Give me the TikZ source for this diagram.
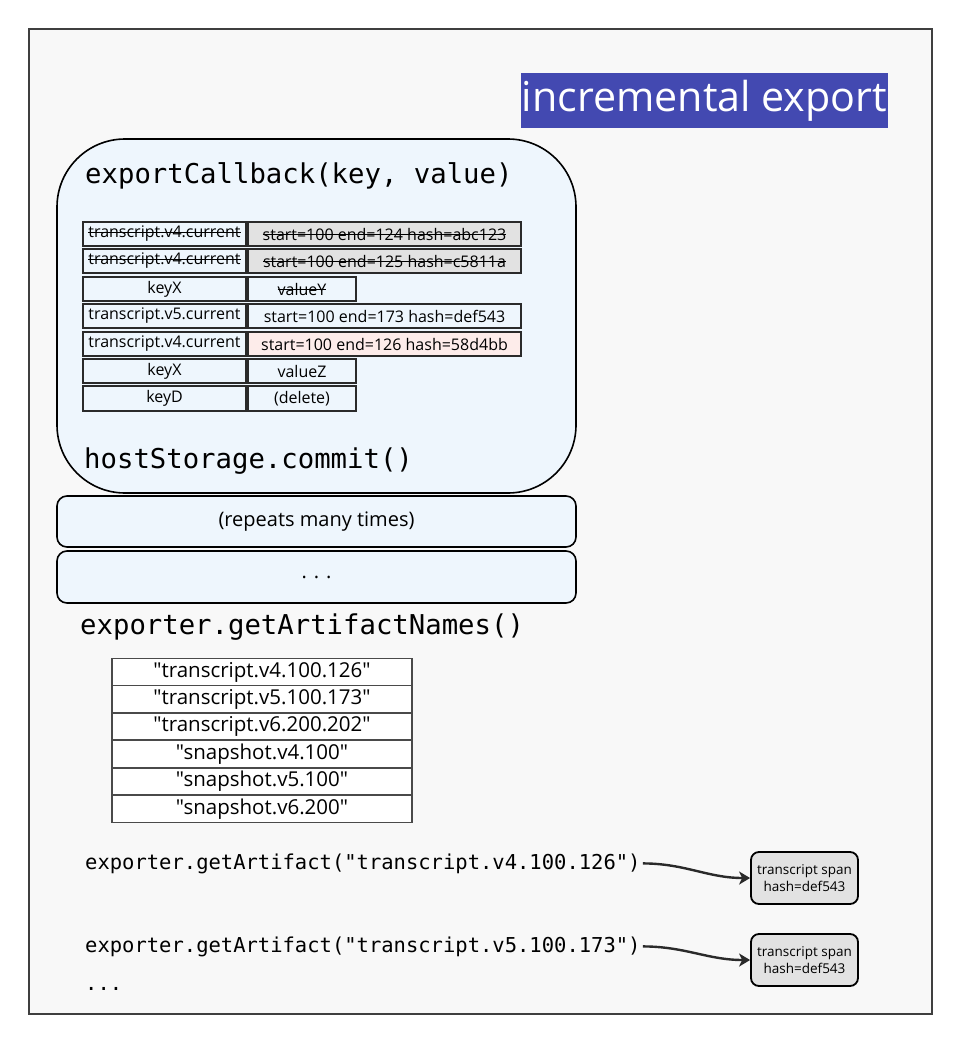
\documentclass[tikz,border=0pt]{standalone}
\usepackage{fontspec}
\setmainfont{Open Sans}[Ligatures=TeXOff]
\newfontfamily\codefont{DejaVu Sans Mono}
\usetikzlibrary{arrows.meta}
\newsavebox{\strkbox}
\newcommand{\strk}[1]{\sbox{\strkbox}{#1}\rlap{\usebox{\strkbox}}\raisebox{0.3em}{\rule{\wd\strkbox}{0.07em}}}
\newcommand{\dq}{\symbol{34}}
\definecolor{bgc}{HTML}{F8F8F8}
\definecolor{lblue}{HTML}{EEF6FD}
\definecolor{titleblue}{HTML}{4349B1}
\definecolor{grayfill}{HTML}{E2E2E2}
\definecolor{pinkfill}{HTML}{FDECEA}
\definecolor{edge}{HTML}{2A2A2A}
\tikzset{
  frame/.style={draw=edge!90, line width=2pt, fill=bgc},
  titlebox/.style={fill=titleblue, text=white, font=\fontsize{41.2}{44}\selectfont, inner sep=0pt},
  bigbox/.style={draw=black, line width=1.6pt, fill=lblue, rounded corners=68pt},
  codebig/.style={font=\codefont\fontsize{27.3}{30}\selectfont, anchor=base west, inner sep=0pt},
  codesmall/.style={font=\codefont\fontsize{20.5}{24}\selectfont, anchor=base west, inner sep=0pt},
  cell/.style={draw=edge, line width=1.8pt, fill=lblue, minimum height=24.5pt, inner sep=0pt, font=\fontsize{16}{18}\selectfont},
  kcell/.style={cell, minimum width=163pt},
  vlong/.style={cell, minimum width=273pt},
  vshort/.style={cell, minimum width=108pt},
  band/.style={draw=black, line width=1.6pt, fill=lblue, rounded corners=10pt, minimum width=519pt, inner sep=0pt, font=\fontsize{20}{22}\selectfont},
  namecell/.style={draw=edge!85, line width=1.3pt, fill=white, minimum width=300pt, minimum height=26.5pt, inner sep=0pt, font=\fontsize{20.5}{22}\selectfont},
  spanbox/.style={draw=black, line width=1.8pt, fill=grayfill, rounded corners=8pt, minimum width=107pt, minimum height=52pt, inner sep=0pt, align=center, font=\fontsize{13.5}{17}\selectfont},
  arr/.style={draw=edge, line width=2.4pt, -{Stealth[length=11pt,width=13pt,inset=3pt]}}
}
\begin{document}
\begin{tikzpicture}[x=1pt,y=-1pt]
\useasboundingbox (0,0) rectangle (959,1041);
\fill[white] (0,0) rectangle (959,1041);
\draw[frame] (29,29) rectangle (932,1014);

\node[titlebox, minimum width=367pt, minimum height=55pt] (title) at (704.5,100.5) {incremental export};

\node[bigbox, minimum width=519pt, minimum height=354pt] (cb) at (316.5,316) {};
\node[codebig] (cbt) at (85,183) {exportCallback(key, value)};
\node[codebig] (commit) at (84,468) {hostStorage.commit()};

% table of writes
\node[kcell] (k1) at (164.5,234) {\strk{transcript.v4.current}};
\node[vlong, fill=grayfill] (v1) at (384.5,234) {\strk{start=100 end=124 hash=abc123}};
\node[kcell] (k2) at (164.5,261) {\strk{transcript.v4.current}};
\node[vlong, fill=grayfill] (v2) at (384.5,261) {\strk{start=100 end=125 hash=c5811a}};
\node[kcell] (k3) at (164.5,289) {keyX};
\node[vshort] (v3) at (302,289) {\strk{valueY}};
\node[kcell] (k4) at (164.5,316) {transcript.v5.current};
\node[vlong] (v4) at (384.5,316) {start=100 end=173 hash=def543};
\node[kcell] (k5) at (164.5,344) {transcript.v4.current};
\node[vlong, fill=pinkfill] (v5) at (384.5,344) {start=100 end=126 hash=58d4bb};
\node[kcell] (k6) at (164.5,371) {keyX};
\node[vshort] (v6) at (302,371) {valueZ};
\node[kcell] (k7) at (164.5,398.5) {keyD};
\node[vshort] (v7) at (302,398.5) {(delete)};

\node[band, minimum height=51pt] (rep) at (316.5,521.5) {(repeats many times)};
\node[band, minimum height=52pt] (dots) at (316.5,577) {. . .};

\node[codebig] (names) at (80,634) {exporter.getArtifactNames()};

\node[namecell] (n1) at (262,672) {\dq transcript.v4.100.126\dq};
\node[namecell] (n2) at (262,699) {\dq transcript.v5.100.173\dq};
\node[namecell] (n3) at (262,726.5) {\dq transcript.v6.200.202\dq};
\node[namecell] (n4) at (262,754) {\dq snapshot.v4.100\dq};
\node[namecell] (n5) at (262,781.5) {\dq snapshot.v5.100\dq};
\node[namecell] (n6) at (262,809) {\dq snapshot.v6.200\dq};

\node[codesmall] (ga1) at (85,869) {exporter.getArtifact(\dq transcript.v4.100.126\dq)};
\node[codesmall] (ga2) at (85,952) {exporter.getArtifact(\dq transcript.v5.100.173\dq)};
\node[codesmall] (more) at (85,990) {...};

\node[spanbox] (s1) at (804.5,878) {transcript span\\hash=def543};
\node[spanbox] (s2) at (804.5,960) {transcript span\\hash=def543};

\coordinate (a1) at ([xshift=2pt]ga1.east);
\coordinate (a2) at ([xshift=2pt]ga2.east);
\draw[arr] (a1) to[out=0,in=180] (s1.west);
\draw[arr] (a2) to[out=0,in=180] (s2.west);
\end{tikzpicture}
\end{document}
